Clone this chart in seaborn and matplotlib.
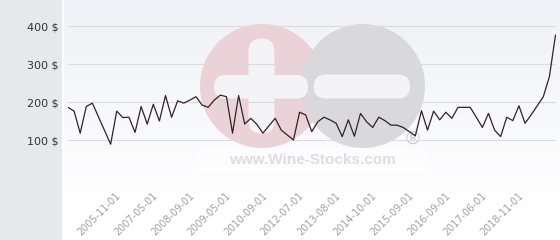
import numpy as np
import pandas as pd
import matplotlib
matplotlib.use("Agg")
import matplotlib.pyplot as plt
from matplotlib.patches import Circle, FancyBboxPatch, Rectangle
import seaborn as sns

# ---- data ----
prices = [186, 176, 118, 188, 197, 161, 125, 89, 176, 159,
          160, 120, 188, 142, 194, 150, 217, 160, 203, 197,
          205, 214, 192, 186, 205, 218, 214, 118, 217, 142,
          157, 141, 118, 138, 157, 126, 113, 100, 173, 166,
          122, 148, 160, 153, 144, 109, 153, 110, 170, 148,
          133, 160, 151, 139, 139, 133, 122, 111, 177, 126,
          176, 153, 173, 157, 186, 186, 186, 160, 133, 170,
          126, 109, 160, 151, 190, 144, 166, 190, 214, 267,
          376]
date_labels = ["2005-11-01", "2007-05-01", "2008-09-01", "2009-05-01",
               "2010-09-01", "2012-07-01", "2013-08-01", "2014-10-01",
               "2015-09-01", "2016-09-01", "2017-06-01", "2018-11-01"]
y_ticks = [100, 200, 300, 400]
y_labels = ["100 $", "200 $", "300 $", "400 $"]
watermark_text = "www.Wine-Stocks.com"

df = pd.DataFrame({"idx": np.arange(len(prices)), "price": prices})

sns.set_theme(style="white")
plt.rcParams["font.family"] = ["DejaVu Sans"]

W, H = 560, 240
fig = plt.figure(figsize=(W / 100, H / 100), dpi=100)

# ---- background layer (pixel coordinates) ----
bg = fig.add_axes([0, 0, 1, 1], zorder=0)
bg.set_xlim(0, W)
bg.set_ylim(H, 0)
bg.axis("off")
grad = np.linspace(0, 1, 240)[:, None]
top = np.array([240, 241, 246]) / 255
bot = np.array([255, 255, 255]) / 255
img = top + (bot - top) * np.clip(grad * 1.15, 0, 1)[:, :, None]
img = np.repeat(img, 2, axis=1)
bg.imshow(img, extent=[63, W, H, 0], aspect="auto", zorder=0)
bg.add_patch(Rectangle((0, 0), 62, H, color="#e6e9ec", zorder=1, lw=0))
bg.add_patch(Rectangle((62, 0), 1.5, H, color="#ffffff", zorder=1, lw=0))

# watermark
bg.add_patch(Circle((262, 86), 62, color="#ebd2d9", zorder=2, lw=0))
bg.add_patch(Circle((363, 86), 62, color="#d9d9dc", zorder=2.1, lw=0))
wc = "#f4f4f7"
bg.add_patch(FancyBboxPatch((248.5, 38.5), 26, 95,
                            boxstyle="round,pad=0,rounding_size=13",
                            color=wc, zorder=3, lw=0))
bg.add_patch(FancyBboxPatch((214, 75), 94, 23.5,
                            boxstyle="round,pad=0,rounding_size=11.5",
                            color=wc, zorder=3, lw=0))
bg.add_patch(FancyBboxPatch((314, 74.5), 96, 24,
                            boxstyle="round,pad=0,rounding_size=12",
                            color=wc, zorder=3, lw=0))
bg.add_patch(Rectangle((197, 148), 230, 26, color="#ffffff", alpha=0.45,
                       zorder=2.5, lw=0))
bg.text(312, 160.5, watermark_text, ha="center", va="center",
        fontsize=11, fontweight="bold", family=["Liberation Sans", "DejaVu Sans"],
        color="#dedee1", zorder=4)
bg.text(413, 139, "\u00ae", ha="center", va="center", fontsize=13,
        color="#cbcbcf", zorder=4)

# ---- main chart ----
x0, x1 = 68, 555.5
y_bottom, y_top = 178, 0
ax = fig.add_axes([x0 / W, (H - y_bottom) / H, (x1 - x0) / W, (y_bottom - y_top) / H],
                  zorder=1)
ax.set_facecolor("none")
ax.set_xlim(0, len(prices) - 1)
ax.set_ylim(0, 178 / 0.38)
for s in ax.spines.values():
    s.set_visible(False)

for v in [0] + y_ticks:
    ax.axhline(v, color="#dcdcdc", lw=0.8, zorder=1)

sns.lineplot(data=df, x="idx", y="price", ax=ax, color="#33202a",
             lw=0.9, zorder=3)
ax.set_xlabel("")
ax.set_ylabel("")

ax.set_yticks(y_ticks)
ax.set_yticklabels(y_labels)
ax.tick_params(axis="y", length=0, pad=7, labelsize=8, labelcolor="#333333")

tick_pos = [9 + 6 * k for k in range(len(date_labels))]
ax.set_xticks(tick_pos)
ax.set_xticklabels(date_labels, rotation=45, ha="right")
ax.tick_params(axis="x", length=0, pad=9, labelsize=7, labelcolor="#a0a0a0")
ax.grid(False)

fig.savefig("out.png", dpi=100)
